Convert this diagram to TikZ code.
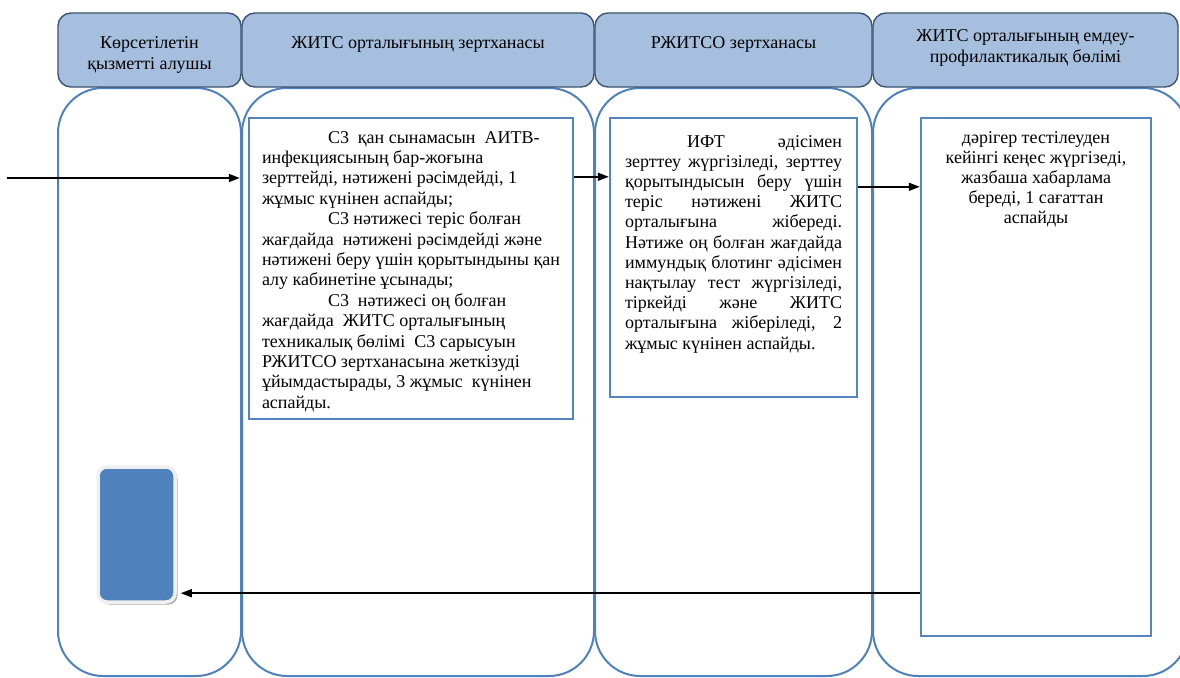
\documentclass[tikz,border=0pt]{standalone}
\usepackage{fontspec}
\setmainfont{Liberation Serif}
\usetikzlibrary{arrows.meta,shadows}

\definecolor{hdrfill}{HTML}{A7BFDE}
\definecolor{hdrline}{HTML}{3E5272}
\definecolor{laneline}{HTML}{4F81BD}
\definecolor{boxline}{HTML}{5585C0}
\definecolor{cardfill}{HTML}{4F81BD}

% text block of fixed size, top aligned; #3 = first baseline below the top
\newcommand\toptext[4]{\parbox[c][#1][t]{#2}{#4}}

\begin{document}
\begin{tikzpicture}[x=1pt,y=-1pt,
  hdr/.style={draw=hdrline, fill=hdrfill, line width=1.4pt, rounded corners=13pt,
    inner sep=0pt, font=\fontsize{18}{21.5}\selectfont},
  lane/.style={draw=laneline, line width=2pt, rounded corners=45pt, inner sep=0pt,
    minimum height=588pt},
  stepbox/.style={draw=boxline, line width=2.4pt, inner sep=0pt,
    font=\fontsize{18}{20.4}\selectfont},
  card/.style={draw=black!6, line width=3.5pt, fill=cardfill, rounded corners=9pt,
    minimum width=77pt, minimum height=135pt, inner sep=0pt,
    drop shadow={shadow xshift=2.5pt, shadow yshift=-2.5pt, fill=black!45, opacity=0.7}},
  arr/.style={-{Triangle[length=11pt,width=8pt]}, line width=1.6pt, black},
]
\useasboundingbox (0,0) rectangle (1180,677);

% swim lanes
\node[lane, minimum width=183pt] (lane1) at (149.5,382) {};
\node[lane, minimum width=352pt] (lane2) at (418,382) {};
\node[lane, minimum width=277pt] (lane3) at (733.5,382) {};
\node[lane, minimum width=315pt] (lane4) at (1030.5,382) {};

% lane headers
\node[hdr] (h1) at (149.5,50) {\parbox[c][74pt][t]{183pt}{\centering\rule{0pt}{35pt}Көрсетілетін\\ қызметті алушы}};
\node[hdr] (h2) at (418,50) {\parbox[c][74pt][t]{352pt}{\centering\rule{0pt}{35pt}ЖИТС орталығының зертханасы}};
\node[hdr] (h3) at (733.5,50) {\parbox[c][74pt][t]{277pt}{\centering\rule{0pt}{35pt}РЖИТСО зертханасы}};
\node[hdr] (h4) at (1025.5,50) {\parbox[c][74pt][t]{305pt}{\centering\rule{0pt}{28pt}ЖИТС орталығының емдеу-\\ профилактикалық бөлімі}};

% process steps
\node[stepbox] (boxA) at (411,268.5) {\parbox[c][301pt][t]{324pt}{\raggedright\leftskip=13pt
\rule{0pt}{25pt}\hspace*{66pt}С3\ \ қан сынамасын\ \ АИТВ-\\
инфекциясының бар-жоғына\\
зерттейді, нәтижені рәсімдейді, 1\\
жұмыс күнінен аспайды;\\
\hspace*{66pt}С3 нәтижесі теріс болған\\
жағдайда\ \ нәтижені рәсімдейді және\\
нәтижені беру үшін қорытындыны қан\\
алу кабинетіне ұсынады;\\
\hspace*{66pt}С3\ \ нәтижесі оң болған\\
жағдайда\ \ ЖИТС орталығының\\
техникалық бөлімі\ \ С3 сарысуын\\
РЖИТСО зертханасына жеткізуді\\
ұйымдастырады, 3 жұмыс\ \ күнінен\\
аспайды.}};

\node[stepbox, font=\fontsize{18}{20.2}\selectfont] (boxB) at (733.5,257.5) {\parbox[c][279pt][t]{247pt}{\leftskip=15pt\rightskip=15pt
\rule{0pt}{29pt}\makebox[217pt][s]{\hspace*{62pt}ИФТ әдісімен}\\
\makebox[217pt][s]{зерттеу жүргізіледі, зерттеу}\\
\makebox[217pt][s]{қорытындысын беру үшін}\\
\makebox[217pt][s]{теріс нәтижені ЖИТС}\\
\makebox[217pt][s]{орталығына жібереді.}\\
\makebox[217pt][s]{Нәтиже оң болған жағдайда}\\
\makebox[217pt][s]{иммундық блотинг әдісімен}\\
\makebox[217pt][s]{нақтылау тест жүргізіледі,}\\
\makebox[217pt][s]{тіркейді және ЖИТС}\\
\makebox[217pt][s]{орталығына жіберіледі, 2}\\
жұмыс күнінен аспайды.}};

\node[stepbox, font=\fontsize{18}{20}\selectfont] (boxC) at (1036,377) {\parbox[c][518pt][t]{230pt}{\centering
\rule{0pt}{25pt}дәрігер тестілеуден\\
кейінгі кеңес жүргізеді,\\
жазбаша хабарлама\\
береді, 1 сағаттан\\
аспайды}};

% result card of the service recipient
\node[card] (card) at (136.5,534.5) {};

% flow
\coordinate (src) at (7,178);
\draw[arr, shorten >=8pt] (src) -- (src -| boxA.west);
\draw[arr] ([yshift=-60pt]boxA.north east) -- ([yshift=-60pt]boxB.north west);
\draw[arr] ([yshift=-70pt]boxB.north east) -- ([yshift=-70pt]boxC.north west);
\coordinate (ret) at ([yshift=44pt]boxC.south west);
\draw[arr, shorten >=4pt] (ret) -- (ret -| card.east);
\end{tikzpicture}
\end{document}
